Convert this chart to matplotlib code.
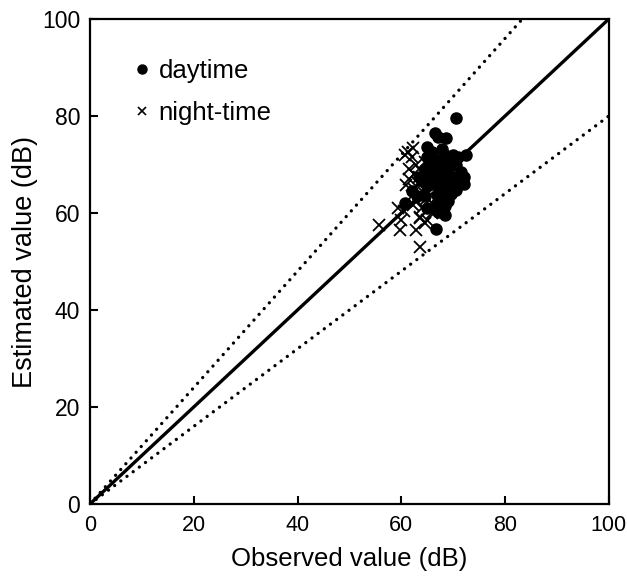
import numpy as np
import matplotlib.pyplot as plt
from matplotlib.lines import Line2D

plt.rcParams['font.family'] = ['Liberation Sans', 'DejaVu Sans']

# daytime observations (observed, estimated) in dB
day_obs = [70.6, 66.5, 67.1, 68.7, 67.8, 64.9, 66.0, 68.5, 70.0, 71.0, 72.5, 69.5,
           67.0, 65.5, 68.0, 70.5, 66.5, 64.5, 69.0, 71.5, 67.5, 65.5, 70.0, 72.0,
           68.5, 66.5, 64.0, 71.0, 70.0, 71.3, 69.0, 67.0, 65.0, 68.0, 70.5, 66.8,
           67.8, 64.5, 66.8, 69.0, 60.7, 63.0, 67.0, 68.4, 66.7, 65.0, 68.5, 62.0,
           69.5, 72.0, 66.0, 63.5, 65.0, 68.0]
day_est = [79.5, 76.4, 75.7, 75.4, 73.3, 73.7, 72.5, 72.0, 72.0, 71.5, 72.0, 71.0,
           71.0, 70.5, 70.0, 70.0, 69.5, 69.0, 69.0, 68.5, 68.5, 68.0, 67.5, 67.5,
           67.0, 67.0, 66.5, 66.5, 66.2, 66.4, 66.0, 65.5, 65.5, 64.5, 64.8, 63.7,
           63.0, 63.5, 62.0, 62.5, 62.0, 63.5, 60.3, 59.6, 56.8, 61.0, 61.5, 64.5,
           64.0, 66.0, 66.0, 67.5, 71.5, 69.0]

# night-time observations
night_obs = [62.2, 61.3, 60.7, 62.0, 61.0, 63.2, 59.4, 62.2, 63.9, 63.6, 64.9, 67.8,
             55.7, 59.7, 62.9, 63.6, 64.5, 63.6, 62.5, 63.5, 61.5, 64.0, 62.0, 65.0,
             63.0, 60.5, 66.0, 61.5, 62.8, 64.0, 65.5, 63.5, 66.5, 60.0, 64.5, 62.5]
night_est = [73.5, 72.6, 72.0, 71.6, 65.8, 66.2, 61.0, 61.6, 61.0, 59.2, 58.6, 60.3,
             57.5, 56.5, 56.5, 53.0, 57.9, 58.9, 68.0, 67.5, 67.0, 64.5, 63.5, 63.0,
             62.5, 60.5, 60.0, 69.0, 70.0, 68.5, 66.0, 64.0, 61.5, 58.5, 70.5, 65.0]

ref_x = [0, 100]
upper_ratio = 1.2
lower_ratio = 0.8

fig = plt.figure(figsize=(6.27, 5.76), dpi=100)
ax = fig.add_axes([0.1435, 0.125, 0.8275, 0.842])

dotted = (0, (0.01, 2.3))
ax.plot(ref_x, ref_x, color='black', linewidth=2.4, zorder=2)
ax.plot([0, 100 / upper_ratio], [0, 100], color='black', linewidth=2.4,
        linestyle=dotted, dash_capstyle='round', zorder=2)
ax.plot(ref_x, [0, 100 * lower_ratio], color='black', linewidth=2.4,
        linestyle=dotted, dash_capstyle='round', zorder=2)

ax.plot(day_obs, day_est, 'o', color='black', markersize=8, linestyle='none', zorder=3)
ax.plot(night_obs, night_est, 'x', color='black', markersize=8.5, markeredgewidth=1.3,
        linestyle='none', zorder=4)

ax.set_xlim(0, 100)
ax.set_ylim(0, 100)
ax.set_xticks(np.arange(0, 101, 20))
ax.set_yticks(np.arange(0, 101, 20))
ax.tick_params(direction='in', length=6, width=1.5)
ax.tick_params(axis='x', labelsize=15.5, pad=8)
ax.tick_params(axis='y', labelsize=16.5, pad=7)
for sp in ax.spines.values():
    sp.set_linewidth(1.6)

ax.set_xlabel('Observed value (dB)', fontsize=18.5, labelpad=8)
ax.set_ylabel('Estimated value (dB)', fontsize=19.5, labelpad=3)

handles = [
    Line2D([], [], marker='o', color='black', markersize=6.5, linestyle='none'),
    Line2D([], [], marker='x', color='black', markersize=5.5, markeredgewidth=1.2,
           linestyle='none'),
]
ax.legend(handles, ['daytime', 'night-time'], loc='upper left',
          bbox_to_anchor=(0.085, 0.918), borderaxespad=0, borderpad=0,
          frameon=False, fontsize=18.5, handlelength=0.6, handletextpad=0.35,
          labelspacing=0.7)

fig.savefig('out.png', dpi=100)
